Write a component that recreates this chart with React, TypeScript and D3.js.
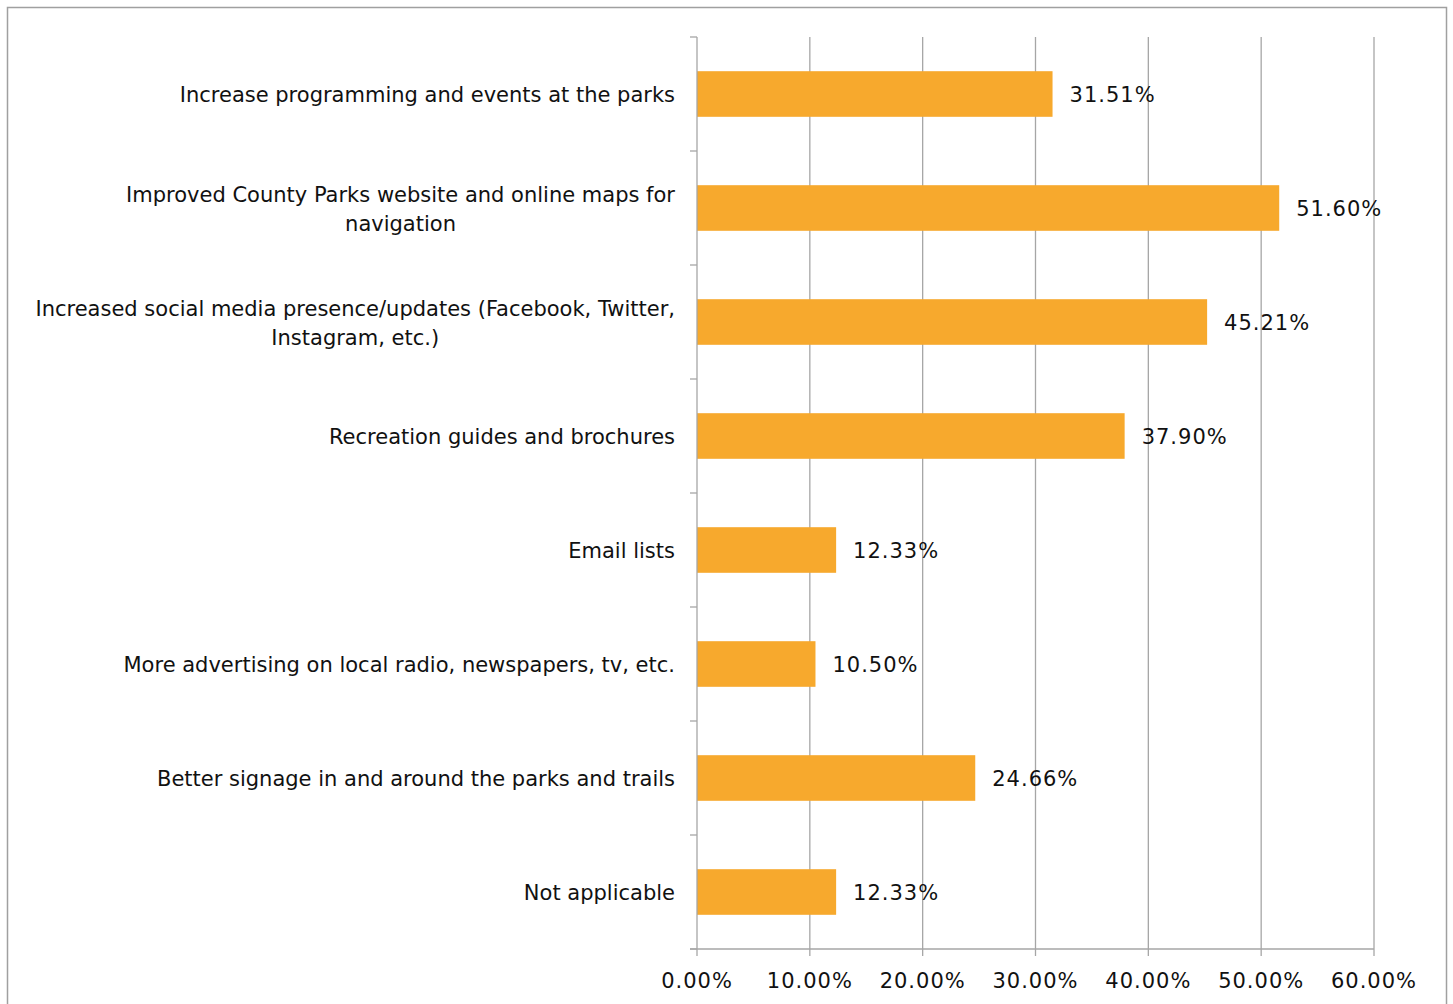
import React from "react";
import * as d3 from "d3";

const categories: string[][] = [
  ["Increase programming and events at the parks"],
  ["Improved County Parks website and online maps for", "navigation"],
  ["Increased social media presence/updates (Facebook, Twitter,", "Instagram, etc.)"],
  ["Recreation guides and brochures"],
  ["Email lists"],
  ["More advertising on local radio, newspapers, tv, etc."],
  ["Better signage in and around the parks and trails"],
  ["Not applicable"],
];
const values: number[] = [31.51, 51.6, 45.21, 37.9, 12.33, 10.5, 24.66, 12.33];
const xTicks: number[] = [0, 10, 20, 30, 40, 50, 60];

const W = 1453;
const H = 1004;
const left = 697;
const right = 1374;
const top = 37;
const bottom = 949;
const FONT = "'DejaVu Sans', sans-serif";
const FS = 21;
const NLS = 1;

let ctx: CanvasRenderingContext2D | null = null;
function measure(s: string): number {
  if (!ctx) ctx = document.createElement("canvas").getContext("2d");
  if (!ctx) return s.length * FS * 0.55;
  ctx.font = `${FS}px 'DejaVu Sans'`;
  return ctx.measureText(s).width;
}

export default function App() {
  const x = d3.scaleLinear().domain([0, 60]).range([left, right]);
  const idx = categories.map((_, i) => String(i));
  const y = d3.scaleBand().domain(idx).range([top, bottom]).paddingInner(0.6).paddingOuter(0.3);
  const band = d3.scaleBand().domain(idx).range([top, bottom]);
  const grey = "#a6a6a6";
  const fmt = (v: number) => d3.format(".2f")(v) + "%";
  return (
    <svg width={W} height={H} style={{ position: "absolute", left: 0, top: 0, background: "#fff" }}>
      <rect x={7.5} y={7.5} width={1439} height={1010} fill="#fff" stroke="#a0a0a0" strokeWidth={1.5} />
      {xTicks.map((t) => (
        <g key={t}>
          {t > 0 && <line x1={x(t)} x2={x(t)} y1={top} y2={bottom} stroke={grey} strokeWidth={1.3} />}
          <line x1={x(t)} x2={x(t)} y1={bottom} y2={bottom + 7} stroke={grey} strokeWidth={1.3} />
          <text x={x(t)} y={981} textAnchor="middle" dominantBaseline="central" fontFamily={FONT} fontSize={FS} letterSpacing={NLS} fill="#111">
            {fmt(t)}
          </text>
        </g>
      ))}
      {categories.map((c, i) => (
        <line key={"t" + i} x1={left - 7} x2={left} y1={band(String(i))!} y2={band(String(i))!} stroke={grey} strokeWidth={1.3} />
      ))}
      <line x1={left - 7} x2={left} y1={bottom} y2={bottom} stroke={grey} strokeWidth={1.3} />
      {values.map((v, i) => {
        const yy = y(String(i))!;
        const cy = band(String(i))! + band.bandwidth() / 2;
        return (
          <g key={"b" + i}>
            <rect x={x(0)} y={yy} width={x(v) - x(0)} height={y.bandwidth()} fill="#F7A92D" />
            <text x={x(v) + 17} y={cy + 1} dominantBaseline="central" fontFamily={FONT} fontSize={FS} letterSpacing={NLS} fill="#111">
              {fmt(v)}
            </text>
          </g>
        );
      })}
      {categories.map((c, i) => {
        const cy = band(String(i))! + band.bandwidth() / 2;
        const lh = 29;
        const y0 = cy - ((c.length - 1) * lh) / 2;
        const wmax = Math.max(...c.map(measure));
        const cx = 675 - wmax / 2;
        return (
          <text key={"c" + i} textAnchor={c.length > 1 ? "middle" : "end"} fontFamily={FONT} fontSize={FS} fill="#111">
            {c.map((line, j) => (
              <tspan key={j} x={c.length > 1 ? cx : 675} y={y0 + j * lh + 1} dominantBaseline="central">
                {line}
              </tspan>
            ))}
          </text>
        );
      })}
      <line x1={left} x2={left} y1={top} y2={bottom} stroke={grey} strokeWidth={1.3} />
      <line x1={left - 7} x2={right} y1={bottom} y2={bottom} stroke={grey} strokeWidth={1.3} />
    </svg>
  );
}
